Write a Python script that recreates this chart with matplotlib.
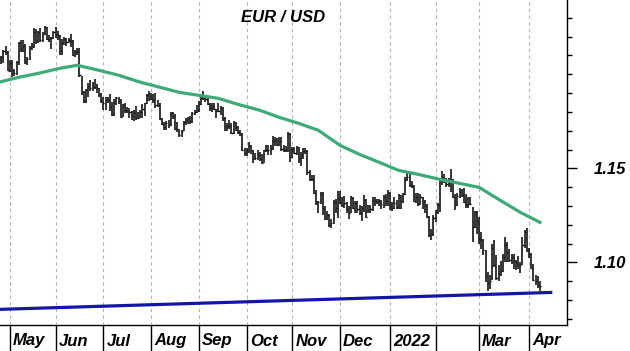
import matplotlib
matplotlib.use("Agg")
import matplotlib.pyplot as plt
import numpy as np
import pandas as pd

# ---------------- data (daily EUR/USD bars, first bar 2021-04-26) ----------------
start_date = "2021-04-26"

high = [
    1.2117, 1.2098, 1.2130, 1.2150, 1.2125,
    1.2076, 1.2078, 1.2030, 1.2070, 1.2173,
    1.2180, 1.2182, 1.2160, 1.2090, 1.2150,
    1.2165, 1.2245, 1.2240, 1.2230, 1.2245,
    1.2225, 1.2255, 1.2250, 1.2210, 1.2200,
    1.2230, 1.2250, 1.2230, 1.2210, 1.2185,
    1.2200, 1.2195, 1.2195, 1.2215, 1.2180,
    1.2130, 1.2140, 1.2140, 1.1990, 1.1910,
    1.1920, 1.1955, 1.1970, 1.1960, 1.1975,
    1.1950, 1.1925, 1.1900, 1.1880, 1.1880,
    1.1880, 1.1895, 1.1855, 1.1868, 1.1880,
    1.1880, 1.1870, 1.1840, 1.1850, 1.1825,
    1.1820, 1.1805, 1.1810, 1.1830, 1.1800,
    1.1810, 1.1840, 1.1850, 1.1895, 1.1909,
    1.1900, 1.1895, 1.1900, 1.1865, 1.1845,
    1.1765, 1.1745, 1.1750, 1.1755, 1.1800,
    1.1800, 1.1790, 1.1745, 1.1710, 1.1705,
    1.1750, 1.1765, 1.1775, 1.1780, 1.1800,
    1.1810, 1.1835, 1.1858, 1.1880, 1.1909,
    1.1885, 1.1880, 1.1845, 1.1845, 1.1845,
    1.1815, 1.1845, 1.1830, 1.1825, 1.1775,
    1.1740, 1.1755, 1.1740, 1.1750, 1.1745,
    1.1725, 1.1705, 1.1690, 1.1610, 1.1610,
    1.1640, 1.1625, 1.1595, 1.1580, 1.1595,
    1.1585, 1.1575, 1.1600, 1.1625, 1.1625,
    1.1625, 1.1670, 1.1667, 1.1660, 1.1665,
    1.1665, 1.1625, 1.1620, 1.1692, 1.1690,
    1.1615, 1.1615, 1.1620, 1.1615, 1.1585,
    1.1610, 1.1610, 1.1600, 1.1490, 1.1465,
    1.1465, 1.1385, 1.1325, 1.1375, 1.1375,
    1.1300, 1.1275, 1.1255, 1.1230, 1.1330,
    1.1335, 1.1380, 1.1382, 1.1350, 1.1355,
    1.1320, 1.1300, 1.1355, 1.1350, 1.1325,
    1.1325, 1.1305, 1.1300, 1.1360, 1.1335,
    1.1305, 1.1305, 1.1345, 1.1345, 1.1335,
    1.1335, 1.1330, 1.1360, 1.1365, 1.1385,
    1.1375, 1.1320, 1.1345, 1.1330, 1.1365,
    1.1360, 1.1370, 1.1455, 1.1482, 1.1475,
    1.1430, 1.1410, 1.1370, 1.1370, 1.1365,
    1.1345, 1.1330, 1.1310, 1.1245, 1.1175,
    1.1250, 1.1280, 1.1315, 1.1450, 1.1485,
    1.1470, 1.1450, 1.1450, 1.1495, 1.1445,
    1.1365, 1.1370, 1.1395, 1.1390, 1.1395,
    1.1365, 1.1345, 1.1345, 1.1295, 1.1275,
    1.1275, 1.1240, 1.1160, 1.1125, 1.1065,
    1.0950, 1.0935, 1.1100, 1.1121, 1.1040,
    1.0985, 1.1005, 1.1045, 1.1137, 1.1110,
    1.1070, 1.1045, 1.1045, 1.1010, 1.1035,
    1.1000, 1.1137, 1.1170, 1.1185, 1.1075,
    1.1050, 1.0990, 1.0935, 1.0925, 1.0900,
]

low = [
    1.2055, 1.2055, 1.2060, 1.2100, 1.2017,
    1.2010, 1.1986, 1.1990, 1.1998, 1.2050,
    1.2120, 1.2120, 1.2055, 1.2051, 1.2075,
    1.2130, 1.2140, 1.2160, 1.2165, 1.2170,
    1.2170, 1.2210, 1.2180, 1.2170, 1.2133,
    1.2190, 1.2195, 1.2180, 1.2105, 1.2105,
    1.2155, 1.2150, 1.2165, 1.2145, 1.2095,
    1.2090, 1.2105, 1.1985, 1.1890, 1.1847,
    1.1850, 1.1880, 1.1910, 1.1910, 1.1920,
    1.1900, 1.1880, 1.1850, 1.1808, 1.1808,
    1.1845, 1.1805, 1.1780, 1.1780, 1.1835,
    1.1840, 1.1770, 1.1775, 1.1795, 1.1795,
    1.1765, 1.1755, 1.1752, 1.1755, 1.1760,
    1.1765, 1.1770, 1.1780, 1.1840, 1.1860,
    1.1865, 1.1850, 1.1820, 1.1825, 1.1755,
    1.1730, 1.1706, 1.1705, 1.1715, 1.1725,
    1.1760, 1.1705, 1.1695, 1.1665, 1.1664,
    1.1700, 1.1730, 1.1735, 1.1735, 1.1740,
    1.1785, 1.1795, 1.1800, 1.1835, 1.1865,
    1.1855, 1.1835, 1.1805, 1.1800, 1.1810,
    1.1770, 1.1800, 1.1785, 1.1750, 1.1700,
    1.1700, 1.1710, 1.1685, 1.1685, 1.1700,
    1.1680, 1.1670, 1.1590, 1.1563, 1.1565,
    1.1580, 1.1575, 1.1529, 1.1545, 1.1545,
    1.1540, 1.1524, 1.1530, 1.1585, 1.1570,
    1.1570, 1.1600, 1.1620, 1.1620, 1.1620,
    1.1590, 1.1585, 1.1585, 1.1585, 1.1535,
    1.1555, 1.1575, 1.1570, 1.1530, 1.1515,
    1.1550, 1.1575, 1.1465, 1.1435, 1.1432,
    1.1365, 1.1307, 1.1265, 1.1310, 1.1250,
    1.1225, 1.1226, 1.1186, 1.1185, 1.1205,
    1.1260, 1.1235, 1.1310, 1.1295, 1.1290,
    1.1260, 1.1230, 1.1265, 1.1285, 1.1265,
    1.1260, 1.1250, 1.1222, 1.1270, 1.1235,
    1.1260, 1.1265, 1.1275, 1.1300, 1.1310,
    1.1300, 1.1285, 1.1290, 1.1300, 1.1300,
    1.1280, 1.1272, 1.1285, 1.1285, 1.1285,
    1.1285, 1.1315, 1.1360, 1.1435, 1.1400,
    1.1395, 1.1320, 1.1315, 1.1300, 1.1305,
    1.1285, 1.1265, 1.1235, 1.1135, 1.1121,
    1.1140, 1.1215, 1.1255, 1.1270, 1.1410,
    1.1420, 1.1400, 1.1400, 1.1375, 1.1340,
    1.1280, 1.1300, 1.1340, 1.1345, 1.1315,
    1.1290, 1.1290, 1.1305, 1.1106, 1.1185,
    1.1150, 1.1100, 1.1070, 1.1040, 1.0895,
    1.0850, 1.0860, 1.0905, 1.0975, 1.0905,
    1.0900, 1.0930, 1.0950, 1.1000, 1.1000,
    1.1000, 1.0990, 1.0965, 1.0960, 1.0965,
    1.0945, 1.0985, 1.1075, 1.1055, 1.1025,
    1.0965, 1.0900, 1.0880, 1.0865, 1.0850,
]

close = [
    1.2083, 1.2090, 1.2125, 1.2120, 1.2020,
    1.2060, 1.2015, 1.2005, 1.2065, 1.2165,
    1.2135, 1.2150, 1.2070, 1.2080, 1.2140,
    1.2150, 1.2225, 1.2175, 1.2225, 1.2180,
    1.2215, 1.2250, 1.2190, 1.2195, 1.2195,
    1.2225, 1.2215, 1.2210, 1.2125, 1.2165,
    1.2190, 1.2170, 1.2180, 1.2175, 1.2105,
    1.2120, 1.2125, 1.1995, 1.1905, 1.1860,
    1.1915, 1.1940, 1.1925, 1.1935, 1.1935,
    1.1925, 1.1895, 1.1858, 1.1845, 1.1865,
    1.1865, 1.1825, 1.1790, 1.1845, 1.1875,
    1.1860, 1.1775, 1.1835, 1.1810, 1.1805,
    1.1800, 1.1780, 1.1795, 1.1770, 1.1770,
    1.1800, 1.1815, 1.1845, 1.1890, 1.1870,
    1.1870, 1.1865, 1.1835, 1.1835, 1.1760,
    1.1735, 1.1720, 1.1740, 1.1730, 1.1795,
    1.1780, 1.1710, 1.1710, 1.1675, 1.1700,
    1.1745, 1.1755, 1.1770, 1.1750, 1.1795,
    1.1800, 1.1810, 1.1840, 1.1875, 1.1880,
    1.1870, 1.1840, 1.1820, 1.1825, 1.1815,
    1.1805, 1.1805, 1.1820, 1.1765, 1.1725,
    1.1725, 1.1725, 1.1690, 1.1740, 1.1720,
    1.1695, 1.1685, 1.1600, 1.1580, 1.1595,
    1.1620, 1.1595, 1.1555, 1.1555, 1.1570,
    1.1550, 1.1530, 1.1595, 1.1595, 1.1600,
    1.1610, 1.1645, 1.1650, 1.1625, 1.1645,
    1.1605, 1.1595, 1.1600, 1.1680, 1.1560,
    1.1605, 1.1580, 1.1615, 1.1555, 1.1570,
    1.1590, 1.1590, 1.1480, 1.1445, 1.1445,
    1.1370, 1.1320, 1.1320, 1.1365, 1.1290,
    1.1235, 1.1250, 1.1200, 1.1210, 1.1320,
    1.1290, 1.1335, 1.1320, 1.1305, 1.1315,
    1.1285, 1.1265, 1.1340, 1.1290, 1.1315,
    1.1285, 1.1260, 1.1290, 1.1330, 1.1240,
    1.1280, 1.1285, 1.1330, 1.1325, 1.1320,
    1.1325, 1.1310, 1.1350, 1.1325, 1.1370,
    1.1300, 1.1290, 1.1315, 1.1295, 1.1360,
    1.1325, 1.1365, 1.1440, 1.1455, 1.1410,
    1.1405, 1.1325, 1.1345, 1.1310, 1.1345,
    1.1325, 1.1300, 1.1240, 1.1145, 1.1150,
    1.1235, 1.1270, 1.1305, 1.1440, 1.1455,
    1.1440, 1.1415, 1.1420, 1.1425, 1.1350,
    1.1305, 1.1355, 1.1375, 1.1360, 1.1320,
    1.1305, 1.1310, 1.1310, 1.1190, 1.1270,
    1.1220, 1.1125, 1.1120, 1.1065, 1.0925,
    1.0890, 1.0900, 1.1075, 1.0985, 1.0915,
    1.0940, 1.0955, 1.1030, 1.1095, 1.1050,
    1.1015, 1.1030, 1.1005, 1.0995, 1.0985,
    1.0985, 1.1090, 1.1160, 1.1065, 1.1045,
    1.0970, 1.0905, 1.0900, 1.0880, 1.0875,
]

# moving average (green)
ma_dates = ["2021-04-26", "2021-05-07", "2021-05-20", "2021-06-03", "2021-06-15",
            "2021-06-29", "2021-07-12", "2021-07-26", "2021-08-06", "2021-08-19",
            "2021-09-01", "2021-09-14", "2021-09-27", "2021-10-11", "2021-10-22",
            "2021-11-04", "2021-11-17", "2021-12-01", "2021-12-14", "2021-12-27",
            "2022-01-07", "2022-01-20", "2022-02-03", "2022-02-16", "2022-03-01",
            "2022-03-14", "2022-03-28", "2022-04-08"]
ma_values = [1.1958, 1.1984, 1.2005, 1.2032, 1.2048,
             1.2021, 1.1995, 1.1958, 1.1931, 1.1904,
             1.1888, 1.1872, 1.1840, 1.1809, 1.1771,
             1.1739, 1.1702, 1.1622, 1.1574, 1.1532,
             1.1489, 1.1468, 1.1441, 1.1420, 1.1399,
             1.1335, 1.1266, 1.1213]

# support trend line (blue)
trend_dates = ["2021-04-26", "2022-04-15"]
trend_values = [1.0750, 1.0840]

month_labels = ["May", "Jun", "Jul", "Aug", "Sep", "Oct", "Nov", "Dec",
                "2022", "", "Mar", "Apr"]
ytick_values = [1.10, 1.15]
ytick_labels = ["1.10", "1.15"]
title = "EUR / USD"

# ---------------- drawing ----------------
FONT = dict(family="Liberation Sans", weight="bold", style="italic", size=12)

fig = plt.figure(figsize=(6.3, 3.51), dpi=100)
ax = fig.add_axes([0, 26 / 351, 567 / 630, 325 / 351])

cal = pd.bdate_range(start_date, "2022-04-29")
n = len(high)
bar_x = np.arange(n)
dates = cal[:n]

ax.vlines(bar_x, low, high, color="black", lw=1.1)
ax.hlines(close, bar_x, bar_x + 0.5, color="black", lw=1.0)

ma_x = cal.get_indexer(pd.to_datetime(ma_dates))
ax.plot(ma_x, ma_values, color="#3daa78", lw=2.3, solid_joinstyle="round")

tr_x = cal.get_indexer(pd.to_datetime(trend_dates))
ax.plot(tr_x, trend_values, color="#1414a8", lw=2.3)

# month separators
per = dates.to_period("M")
starts = [i for i in range(1, n) if per[i] != per[i - 1]]
ax.set_xticks(starts)
ax.set_xticklabels([])
ax.tick_params(axis="x", which="major", direction="out", length=18.7, width=1.0,
               color="black")
ax.grid(axis="x", which="major", color="#b4b4b4", linestyle=(0, (3, 3)), lw=0.8)
for s, lab in zip(starts, month_labels):
    ax.annotate(lab, xy=(s, 0), xycoords=("data", "axes fraction"),
                xytext=(3, -16), textcoords="offset pixels",
                ha="left", va="center", **FONT)

ax.set_xlim(0.396, 261.5)
ax.set_ylim(1.0667, 1.2395)

ax.yaxis.tick_right()
ax.set_yticks(ytick_values)
ax.set_yticklabels(ytick_labels, **FONT)
ax.set_yticks(np.arange(1.07, 1.24, 0.01), minor=True)
ax.tick_params(axis="y", which="major", direction="out", length=7.2, width=1.0,
               pad=12)
ax.tick_params(axis="y", which="minor", direction="out", length=3.6, width=1.0)

for side in ("left", "top"):
    ax.spines[side].set_visible(False)
for side in ("right", "bottom"):
    ax.spines[side].set_color("black")
    ax.spines[side].set_linewidth(1.0)

ax.text(0.5, 1 - 17 / 325, title, transform=ax.transAxes, ha="center",
        va="center", **FONT)

fig.savefig("out.png", dpi=100)
